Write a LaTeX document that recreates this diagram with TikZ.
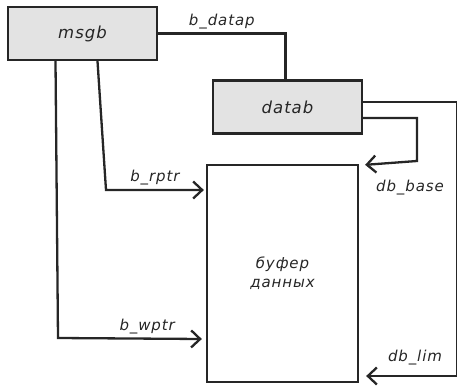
\documentclass[tikz,border=0pt]{standalone}
\usepackage{fontspec}
\setmainfont{DejaVu Sans}[LetterSpace=6]
\usetikzlibrary{arrows.meta, positioning}

\begin{document}
\begin{tikzpicture}[x=1pt, y=-1pt, line width=2.3pt, color=black!85,
    font=\itshape\fontsize{15}{19}\selectfont,
    block/.style={draw, fill=gray!22, minimum width=149pt, minimum height=53pt,
        font=\itshape\fontsize{16.5}{20}\selectfont},
    ptr/.style={arrows={-Straight Barb[length=9pt, width=17pt]}}]
    \useasboundingbox (0,0) rectangle (457,385);

    % Nodes
    \node[block] (msgb) at (82.5,33.5) {msgb};
    \node[block] (datab) at (287.5,107) {datab};
    \node[draw, minimum width=151pt, minimum height=217pt, align=center] (buffer) at (282.5,273.5) {буфер\\данных};
    \coordinate (lim) at (457.2,376);

    % Connections
    \draw (msgb.east) -| ([xshift=-2pt]datab.north)
        node[pos=0.25, above] (datap lbl) {b\_datap};
    \draw[ptr] ([xshift=15pt]msgb.south) -- (106,190)
        -- ([xshift=-2pt]buffer.west |- 0,190)
        node[midway, above] (rptr lbl) {b\_rptr};
    \draw[ptr] ([xshift=-27pt]msgb.south) -- (58,338)
        -- ([xshift=-4pt]buffer.west |- 0,339)
        node[pos=0.62, above] (wptr lbl) {b\_wptr};
    \draw[ptr] ([yshift=-11pt]datab.east) -| (417,161)
        -- ([xshift=6pt,yshift=-1pt]buffer.north east);
    \node (base lbl) at (410,188) {db\_base};
    \draw[ptr] ([yshift=5pt]datab.east) -- ([yshift=5pt]datab.east -| lim)
        -- (lim) -- ([xshift=7pt]buffer.east |- lim);
    \node (lim lbl) at (415,358) {db\_lim};
\end{tikzpicture}
\end{document}
